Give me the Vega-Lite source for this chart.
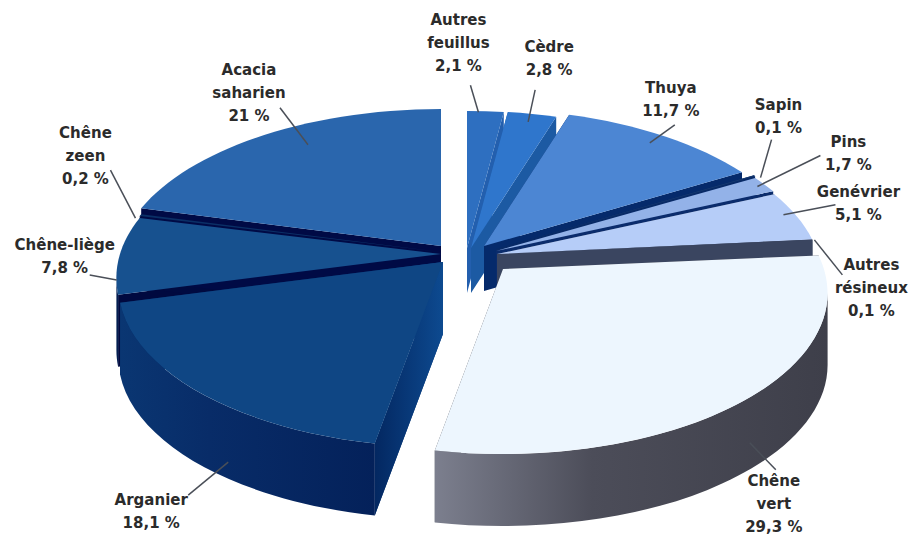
{
  "$schema": "https://vega.github.io/schema/vega-lite/v6.json",
  "width": 916,
  "height": 537,
  "padding": 0,
  "autosize": "none",
  "background": "white",
  "config": {"view": {"stroke": null}},
  "data": {"values": [
    {"rang": 0, "essence": "Autres feuillus", "pct": 2.1},
    {"rang": 1, "essence": "Cèdre", "pct": 2.8},
    {"rang": 2, "essence": "Thuya", "pct": 11.7},
    {"rang": 3, "essence": "Sapin", "pct": 0.1},
    {"rang": 4, "essence": "Pins", "pct": 1.7},
    {"rang": 5, "essence": "Genévrier", "pct": 5.1},
    {"rang": 6, "essence": "Autres résineux", "pct": 0.1},
    {"rang": 7, "essence": "Chêne vert", "pct": 29.3},
    {"rang": 8, "essence": "Arganier", "pct": 18.1},
    {"rang": 9, "essence": "Chêne-liège", "pct": 7.8},
    {"rang": 10, "essence": "Chêne zeen", "pct": 0.2},
    {"rang": 11, "essence": "Acacia saharien", "pct": 21}
  ]},
  "transform": [
    {"stack": "pct", "groupby": [], "sort": [{"field": "rang", "order": "ascending"}], "as": ["p0", "p1"]},
    {"calculate": "datum.p0 / 100 * 2 * PI", "as": "a0"},
    {"calculate": "datum.p1 / 100 * 2 * PI", "as": "a1"},
    {"calculate": "(datum.a0 + datum.a1) / 2", "as": "am"},
    {"calculate": "[[26,-4],[30,-4],[43,-6],[55,-3],[55,-1],[56,2],[56,2],[62,17],[2,10],[0,2],[0,0],[0,-6]][datum.rang]", "as": "eclate"},
    {"calculate": "datum.eclate[0]", "as": "ax"},
    {"calculate": "datum.eclate[1]", "as": "ay"},
    {"calculate": "datum.p1 <= 25 ? 45 : 72", "as": "ep"},
    {"calculate": "round(10 * (datum.ax + 321 * sin(datum.a0) / (1 + 0.149 * cos(datum.a0)))) / 10", "as": "x0"},
    {"calculate": "round(10 * (datum.ay - 157.4 * cos(datum.a0) / (1 + 0.149 * cos(datum.a0)))) / 10", "as": "y0"},
    {"calculate": "round(10 * (datum.ax + 321 * sin(datum.a1) / (1 + 0.149 * cos(datum.a1)))) / 10", "as": "x1"},
    {"calculate": "round(10 * (datum.ay - 157.4 * cos(datum.a1) / (1 + 0.149 * cos(datum.a1)))) / 10", "as": "y1"},
    {"calculate": "max(datum.a0, 1.721)", "as": "b0"},
    {"calculate": "min(datum.a1, 4.562)", "as": "b1"},
    {"calculate": "round(10 * (datum.ax + 321 * sin(datum.b0) / (1 + 0.149 * cos(datum.b0)))) / 10", "as": "u0"},
    {"calculate": "round(10 * (datum.ay - 157.4 * cos(datum.b0) / (1 + 0.149 * cos(datum.b0)))) / 10", "as": "v0"},
    {"calculate": "round(10 * (datum.ax + 321 * sin(datum.b1) / (1 + 0.149 * cos(datum.b1)))) / 10", "as": "u1"},
    {"calculate": "round(10 * (datum.ay - 157.4 * cos(datum.b1) / (1 + 0.149 * cos(datum.b1)))) / 10", "as": "v1"},
    {"calculate": "'M' + datum.ax + ',' + datum.ay + 'L' + datum.x0 + ',' + datum.y0 + 'A325,161 0 0 1 ' + datum.x1 + ',' + datum.y1 + 'Z'", "as": "face"},
    {"calculate": "'M' + datum.ax + ',' + datum.ay + 'L' + datum.x0 + ',' + datum.y0 + 'L' + datum.x0 + ',' + (datum.y0 + datum.ep) + 'L' + datum.ax + ',' + (datum.ay + datum.ep) + 'Z' + 'M' + datum.ax + ',' + datum.ay + 'L' + datum.x1 + ',' + datum.y1 + 'L' + datum.x1 + ',' + (datum.y1 + datum.ep) + 'L' + datum.ax + ',' + (datum.ay + datum.ep) + 'Z'", "as": "paroi"},
    {"calculate": "'M' + datum.u0 + ',' + datum.v0 + 'A325,161 0 0 1 ' + datum.u1 + ',' + datum.v1 + 'L' + datum.u1 + ',' + (datum.v1 + datum.ep) + 'A325,161 0 0 0 ' + datum.u0 + ',' + (datum.v0 + datum.ep) + 'Z'", "as": "flanc"},
    {"calculate": "441 + 321 * sin(datum.am) / (1 + 0.149 * cos(datum.am))", "as": "ox"},
    {"calculate": "252 - 157.4 * cos(datum.am) / (1 + 0.149 * cos(datum.am))", "as": "oy"},
    {"calculate": "[[-1,-95],[47,-71],[50,-54],[79,-74],[139,-43],[118,-22],[115,27],[90,98],[-44,119],[-55,-8],[-55,-82],[-16,-71]][datum.rang]", "as": "decalTexte"},
    {"calculate": "[[19,-3],[26,4],[29,1],[61,-1],[48,1],[43,1],[58,2],[66,60],[33,81],[-3,27],[-5,3],[43,4]][datum.rang]", "as": "decalA"},
    {"calculate": "[[11,-30],[33,-28],[54,-17],[72,-39],[111,-30],[95,-9],[86,37],[92,87],[-7,114],[-30,22],[-30,-45],[15,-33]][datum.rang]", "as": "decalB"},
    {"calculate": "datum.ox + datum.decalTexte[0]", "as": "tx"},
    {"calculate": "datum.oy + datum.decalTexte[1]", "as": "ty"},
    {"calculate": "datum.ox + datum.decalA[0]", "as": "fx"},
    {"calculate": "datum.oy + datum.decalA[1]", "as": "fy"},
    {"calculate": "datum.ox + datum.decalB[0]", "as": "fx2"},
    {"calculate": "datum.oy + datum.decalB[1]", "as": "fy2"},
    {"calculate": "replace(datum.essence, ' ', '\\n') + '\\n' + replace(datum.pct + '', '.', ',') + ' %'", "as": "etiquette"}
  ],
  "layer": [
    {
      "mark": {"type": "point", "filled": true, "opacity": 1, "size": 4},
      "encoding": {
        "x": {"value": 441},
        "y": {"value": 252},
        "shape": {"field": "paroi", "type": "nominal", "scale": null},
        "color": {
          "field": "essence", "type": "nominal", "legend": null,
          "scale": {
            "domain": ["Autres feuillus", "Cèdre", "Thuya", "Sapin", "Pins", "Genévrier", "Autres résineux", "Chêne vert", "Arganier", "Chêne-liège", "Chêne zeen", "Acacia saharien"],
            "range": ["#235fae", "#1c5aa3", "#052a6b", "#082a66", "#0b2c6c", "#3a4560", "#3a4560", "#3e3f4a", "#0a3a78", "#00093f", "#000a40", "#000a45"]
          }
        }
      }
    },
    {
      "transform": [{"filter": "datum.essence === 'Arganier'"}],
      "mark": {
        "type": "point", "filled": true, "opacity": 1, "size": 4,
        "color": {
          "gradient": "linear", "x1": 0, "y1": 0, "x2": 1, "y2": 0,
          "stops": [
            {"offset": 0, "color": "#03265f"},
            {"offset": 0.78, "color": "#03265f"},
            {"offset": 1, "color": "#0d4a90"}
          ]
        }
      },
      "encoding": {
        "x": {"value": 441},
        "y": {"value": 252},
        "shape": {"field": "paroi", "type": "nominal", "scale": null}
      }
    },
    {
      "transform": [{"filter": "datum.essence === 'Chêne-liège'"}],
      "mark": {"type": "point", "filled": true, "opacity": 1, "size": 4, "color": "#041f52"},
      "encoding": {
        "x": {"value": 441},
        "y": {"value": 252},
        "shape": {"field": "flanc", "type": "nominal", "scale": null}
      }
    },
    {
      "transform": [{"filter": "datum.essence === 'Arganier'"}],
      "mark": {
        "type": "point", "filled": true, "opacity": 1, "size": 4,
        "color": {
          "gradient": "linear", "x1": 0, "y1": 0, "x2": 1, "y2": 0,
          "stops": [
            {"offset": 0, "color": "#0a3672"},
            {"offset": 0.35, "color": "#082c68"},
            {"offset": 1, "color": "#04215a"}
          ]
        }
      },
      "encoding": {
        "x": {"value": 441},
        "y": {"value": 252},
        "shape": {"field": "flanc", "type": "nominal", "scale": null}
      }
    },
    {
      "transform": [{"filter": "datum.essence === 'Chêne vert'"}],
      "mark": {
        "type": "point", "filled": true, "opacity": 1, "size": 4,
        "color": {
          "gradient": "linear", "x1": 0, "y1": 0, "x2": 1, "y2": 0,
          "stops": [
            {"offset": 0, "color": "#7c7f8e"},
            {"offset": 0.4, "color": "#4c4d59"},
            {"offset": 1, "color": "#3e3f4a"}
          ]
        }
      },
      "encoding": {
        "x": {"value": 441},
        "y": {"value": 252},
        "shape": {"field": "flanc", "type": "nominal", "scale": null}
      }
    },
    {
      "mark": {"type": "point", "filled": true, "opacity": 1, "size": 4},
      "encoding": {
        "x": {"value": 441},
        "y": {"value": 252},
        "shape": {"field": "face", "type": "nominal", "scale": null},
        "color": {
          "field": "essence", "type": "nominal", "legend": null,
          "scale": {
            "domain": ["Autres feuillus", "Cèdre", "Thuya", "Sapin", "Pins", "Genévrier", "Autres résineux", "Chêne vert", "Arganier", "Chêne-liège", "Chêne zeen", "Acacia saharien"],
            "range": ["#2e6fc0", "#2f76cc", "#4c86d3", "#15386f", "#93b2e8", "#b6cdf8", "#3a4560", "#edf6fe", "#0f4684", "#17518f", "#0a2f66", "#2a66ad"]
          }
        }
      }
    },
    {
      "mark": {"type": "rule", "color": "#4a4f58", "strokeWidth": 1.5},
      "encoding": {
        "x": {"field": "fx", "type": "quantitative", "axis": null, "scale": {"domain": [0, 916], "range": [0, 916], "nice": false, "zero": false}},
        "y": {"field": "fy", "type": "quantitative", "axis": null, "scale": {"domain": [0, 537], "range": [0, 537], "nice": false, "zero": false}},
        "x2": {"field": "fx2"},
        "y2": {"field": "fy2"}
      }
    },
    {
      "mark": {"type": "text", "lineBreak": "\n", "lineHeight": 23, "font": "DejaVu Sans", "fontSize": 15, "fontWeight": "bold", "color": "#2b2b2b", "align": "center", "baseline": "middle"},
      "encoding": {
        "x": {"field": "tx", "type": "quantitative", "axis": null, "scale": {"domain": [0, 916], "range": [0, 916], "nice": false, "zero": false}},
        "y": {"field": "ty", "type": "quantitative", "axis": null, "scale": {"domain": [0, 537], "range": [0, 537], "nice": false, "zero": false}},
        "text": {"field": "etiquette"}
      }
    }
  ],
  "resolve": {"scale": {"color": "independent"}}
}
